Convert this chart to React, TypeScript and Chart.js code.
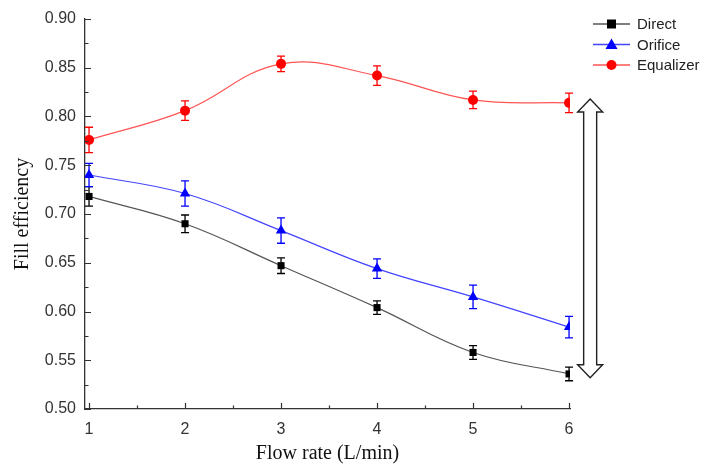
import React, { useEffect, useRef } from 'react';
import { Chart, registerables } from 'chart.js';

Chart.register(...registerables);

const FLOW_RATES = [1, 2, 3, 4, 5, 6];
const SERIES_NAMES = ['Direct', 'Orifice', 'Equalizer'];
const DIRECT = [0.718, 0.690, 0.647, 0.604, 0.558, 0.536];
const DIRECT_ERR = [0.010, 0.009, 0.008, 0.007, 0.007, 0.007];
const ORIFICE = [0.740, 0.721, 0.683, 0.644, 0.615, 0.584];
const ORIFICE_ERR = [0.012, 0.013, 0.013, 0.010, 0.012, 0.011];
const EQUALIZER = [0.776, 0.806, 0.854, 0.842, 0.817, 0.814];
const EQUALIZER_ERR = [0.013, 0.010, 0.008, 0.010, 0.009, 0.010];
const Y_MAJOR = [0.5, 0.55, 0.6, 0.65, 0.7, 0.75, 0.8, 0.85, 0.9];
const Y_MINOR = [0.525, 0.575, 0.625, 0.675, 0.725, 0.775, 0.825, 0.875];
const X_MAJOR = [1, 2, 3, 4, 5, 6];
const X_MINOR = [1.5, 2.5, 3.5, 4.5, 5.5];
const ARROW_X = 6.22;
const ARROW_Y = [0.818, 0.532];

const SANS = "'Liberation Sans', Arial, sans-serif";
const SERIF = "'Liberation Serif', 'Times New Roman', serif";
const AXIS_COLOR = '#333333';

const errorBarsPlugin = {
  id: 'errorBars',
  afterDatasetsDraw(chart: any) {
    const ctx = chart.ctx;
    const xs = chart.scales.x;
    const ys = chart.scales.y;
    chart.data.datasets.forEach((ds: any) => {
      const errs: number[] = ds.errors;
      ctx.save();
      ctx.strokeStyle = ds.errColor;
      ctx.lineWidth = 1.3;
      ds.data.forEach((pt: any, i: number) => {
        const x = xs.getPixelForValue(pt.x);
        const y1 = ys.getPixelForValue(pt.y + errs[i]);
        const y2 = ys.getPixelForValue(pt.y - errs[i]);
        ctx.beginPath();
        ctx.moveTo(x, y1);
        ctx.lineTo(x, y2);
        ctx.moveTo(x - 4, y1);
        ctx.lineTo(x + 4, y1);
        ctx.moveTo(x - 4, y2);
        ctx.lineTo(x + 4, y2);
        ctx.stroke();
      });
      ctx.restore();
    });
  },
};

const axisTicksPlugin = {
  id: 'axisTicks',
  afterDraw(chart: any) {
    const ctx = chart.ctx;
    const xs = chart.scales.x;
    const ys = chart.scales.y;
    const area = chart.chartArea;
    ctx.save();
    ctx.strokeStyle = AXIS_COLOR;
    ctx.lineWidth = 1.2;
    ctx.beginPath();
    Y_MAJOR.forEach((v) => {
      const y = Math.round(ys.getPixelForValue(v)) + 0.5;
      ctx.moveTo(area.left, y);
      ctx.lineTo(area.left + 6, y);
    });
    Y_MINOR.forEach((v) => {
      const y = Math.round(ys.getPixelForValue(v)) + 0.5;
      ctx.moveTo(area.left, y);
      ctx.lineTo(area.left + 3.5, y);
    });
    X_MAJOR.forEach((v) => {
      const x = Math.round(xs.getPixelForValue(v)) + 0.5;
      ctx.moveTo(x, area.bottom);
      ctx.lineTo(x, area.bottom - 6);
    });
    X_MINOR.forEach((v) => {
      const x = Math.round(xs.getPixelForValue(v)) + 0.5;
      ctx.moveTo(x, area.bottom);
      ctx.lineTo(x, area.bottom - 3.5);
    });
    ctx.stroke();
    ctx.restore();
  },
};

const arrowPlugin = {
  id: 'doubleArrow',
  afterDraw(chart: any) {
    const ctx = chart.ctx;
    const xs = chart.scales.x;
    const ys = chart.scales.y;
    const cx = xs.getPixelForValue(ARROW_X);
    const top = ys.getPixelForValue(ARROW_Y[0]);
    const bot = ys.getPixelForValue(ARROW_Y[1]);
    const headW = 12.5;
    const shaftW = 6.5;
    const headL = 13;
    ctx.save();
    ctx.beginPath();
    ctx.moveTo(cx, top);
    ctx.lineTo(cx + headW, top + headL);
    ctx.lineTo(cx + shaftW, top + headL);
    ctx.lineTo(cx + shaftW, bot - headL);
    ctx.lineTo(cx + headW, bot - headL);
    ctx.lineTo(cx, bot);
    ctx.lineTo(cx - headW, bot - headL);
    ctx.lineTo(cx - shaftW, bot - headL);
    ctx.lineTo(cx - shaftW, top + headL);
    ctx.lineTo(cx - headW, top + headL);
    ctx.closePath();
    ctx.fillStyle = '#ffffff';
    ctx.fill();
    ctx.strokeStyle = '#222222';
    ctx.lineWidth = 1.4;
    ctx.stroke();
    ctx.restore();
  },
};

const legendPlugin = {
  id: 'customLegend',
  afterDraw(chart: any) {
    const ctx = chart.ctx;
    const x0 = 593;
    const x1 = 630;
    const mx = (x0 + x1) / 2;
    ctx.save();
    chart.data.datasets.forEach((ds: any, i: number) => {
      const y = 24 + i * 20.5;
      ctx.strokeStyle = ds.borderColor;
      ctx.lineWidth = 1.3;
      ctx.beginPath();
      ctx.moveTo(x0, y);
      ctx.lineTo(x1, y);
      ctx.stroke();
      ctx.fillStyle = ds.pointBackgroundColor;
      ctx.beginPath();
      if (ds.pointStyle === 'rect') {
        ctx.rect(mx - 4.5, y - 4.5, 9, 9);
      } else if (ds.pointStyle === 'triangle') {
        ctx.moveTo(mx, y - 6);
        ctx.lineTo(mx + 6, y + 4.5);
        ctx.lineTo(mx - 6, y + 4.5);
        ctx.closePath();
      } else {
        ctx.arc(mx, y, 5, 0, Math.PI * 2);
      }
      ctx.fill();
      ctx.fillStyle = '#222222';
      ctx.font = `15px ${SANS}`;
      ctx.textBaseline = 'middle';
      ctx.textAlign = 'left';
      ctx.fillText(ds.label, 637, y + 1);
    });
    ctx.restore();
  },
};

export default function App() {
  const canvasRef = useRef<HTMLCanvasElement | null>(null);

  useEffect(() => {
    const canvas = canvasRef.current;
    if (!canvas) return;
    const makeDs = (label: string, data: number[], errors: number[], line: string, fill: string, style: string, radius: number) => ({
      label,
      data: data.map((v, i) => ({ x: FLOW_RATES[i], y: v })),
      errors,
      errColor: fill,
      borderColor: line,
      borderWidth: 1.2,
      pointBackgroundColor: fill,
      pointBorderColor: fill,
      pointBorderWidth: 0,
      pointStyle: style,
      pointRadius: radius,
      tension: 0.4,
      fill: false,
    });
    const datasets: any[] = [
      makeDs(SERIES_NAMES[0], DIRECT, DIRECT_ERR, '#555555', '#000000', 'rect', 5),
      makeDs(SERIES_NAMES[1], ORIFICE, ORIFICE_ERR, '#4444ff', '#0000ff', 'triangle', 6),
      makeDs(SERIES_NAMES[2], EQUALIZER, EQUALIZER_ERR, '#ff5555', '#ff0000', 'circle', 5),
    ];

    const chart = new Chart(canvas, {
      type: 'line',
      data: { datasets },
      plugins: [errorBarsPlugin as any, axisTicksPlugin as any, arrowPlugin as any, legendPlugin as any],
      options: {
        responsive: false,
        animation: false,
        layout: { padding: { top: 19, right: 135, left: 0, bottom: 0 } },
        plugins: { legend: { display: false }, tooltip: { enabled: false } },
        scales: {
          x: {
            type: 'linear',
            min: 0.958,
            max: 6.01,
            afterFit: (s: any) => { s.height = 57; },
            afterBuildTicks: (s: any) => { s.ticks = X_MAJOR.map((v) => ({ value: v })); },
            grid: { display: false, drawTicks: false },
            border: { display: true, color: AXIS_COLOR, width: 1.3 },
            ticks: {
              padding: 11,
              color: '#333333',
              font: { family: SANS, size: 16 },
              callback: (v: any) => String(v),
            },
            title: {
              display: true,
              text: 'Flow rate (L/min)',
              color: '#111111',
              font: { family: SERIF, size: 20 },
              padding: { top: 0, bottom: 0 },
            },
          },
          y: {
            type: 'linear',
            min: 0.5,
            max: 0.9,
            afterFit: (s: any) => { s.width = 85; },
            afterBuildTicks: (s: any) => { s.ticks = Y_MAJOR.map((v) => ({ value: v })); },
            grid: { display: false, drawTicks: false },
            border: { display: true, color: AXIS_COLOR, width: 1.3 },
            ticks: {
              padding: 9,
              color: '#333333',
              font: { family: SANS, size: 16 },
              callback: (v: any) => Number(v).toFixed(2),
            },
            title: {
              display: true,
              text: 'Fill efficiency',
              color: '#111111',
              font: { family: SERIF, size: 20 },
              padding: { top: 11, bottom: 0 },
            },
          },
        },
      } as any,
    });
    return () => chart.destroy();
  }, []);

  return (
    <div style={{ position: 'absolute', left: 0, top: 0, width: 705, height: 466, background: '#ffffff' }}>
      <canvas ref={canvasRef} width={705} height={466} />
    </div>
  );
}
